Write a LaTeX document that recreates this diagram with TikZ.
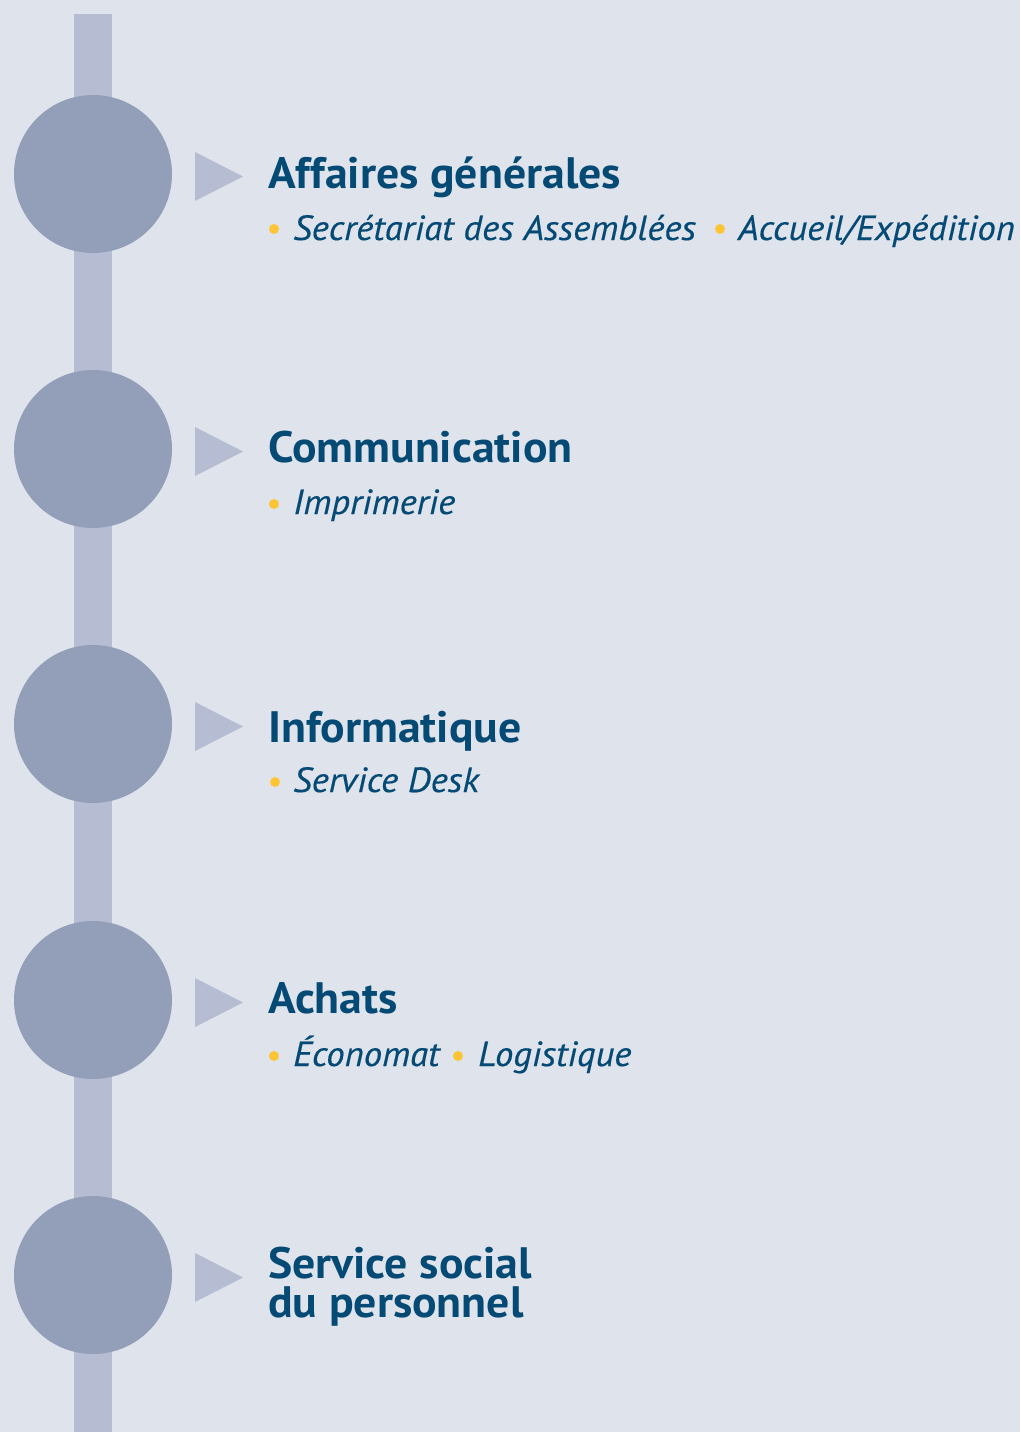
\documentclass[tikz,border=0pt]{standalone}
\usepackage{fontspec}
\setmainfont{PT Sans}
\newfontfamily\titlefont{PT Sans}[FakeStretch=1.04]
\newfontfamily\itemfont{PT Sans}[FakeStretch=1.05,FakeBold=0.4]
\usetikzlibrary{positioning}

\definecolor{bgcol}{RGB}{223,227,235}
\definecolor{barcol}{RGB}{182,189,210}
\definecolor{stopcol}{RGB}{147,159,185}
\definecolor{textcol}{RGB}{5,74,117}
\definecolor{dotcol}{RGB}{253,197,54}

\begin{document}
\begin{tikzpicture}[
		x=1pt,y=-1pt,
		stop/.style={circle,fill=stopcol,minimum size=158pt,inner sep=0pt},
		title/.style={anchor=base west,inner sep=0pt,text=textcol,align=left,
			font=\titlefont\fontsize{44}{39}\selectfont\bfseries},
		item/.style={anchor=base west,inner sep=0pt,text=textcol,
			font=\itemfont\fontsize{35}{40}\selectfont\itshape},
		dot/.style={circle,fill=dotcol,minimum size=10pt,inner sep=0pt}
		]
		\fill[bgcol] (0,0) rectangle (1020,1432);
		\fill[barcol] (74,14) rectangle (112,1432);
		
		\foreach \n/\y in {a/174,b/449,c/724,d/1000,e/1275} {
			\node[stop] (stop\n) at (93,\y) {};
			\fill[barcol] (195,\y-22) -- (243,\y+2.5) -- (195,\y+27) -- cycle;
		}
		
		% Affaires generales
		\node[title] (titlea) at (268,188) {Affaires générales};
		\node[dot] (dota1) at (274,229) {};
		\node[item] (itema1) at (293,240) {Secrétariat des Assemblées};
		\node[dot] (dota2) at (720,229) {};
		\node[item] (itema2) at (738,240) {Accueil/Expédition};
		
		% Communication
		\node[title] (titleb) at (268,462) {Communication};
		\node[dot] (dotb1) at (274,504) {};
		\node[item] (itemb1) at (293,514) {Imprimerie};
		
		% Informatique
		\node[title] (titlec) at (268,742) {Informatique};
		\node[dot] (dotc1) at (275,782) {};
		\node[item] (itemc1) at (293,792) {Service Desk};
		
		% Achats
		\node[title] (titled) at (268,1013) {Achats};
		\node[dot] (dotd1) at (274,1056) {};
		\node[item] (itemd1) at (293,1066) {Économat};
		\node[dot] (dotd2) at (458,1056) {};
		\node[item] (itemd2) at (478,1066) {Logistique};
		
		% Service social (two lines, base is the last line)
		\node[title] (titlee) at (268,1317) {Service social\\du personnel};
	\end{tikzpicture}
\end{document}
